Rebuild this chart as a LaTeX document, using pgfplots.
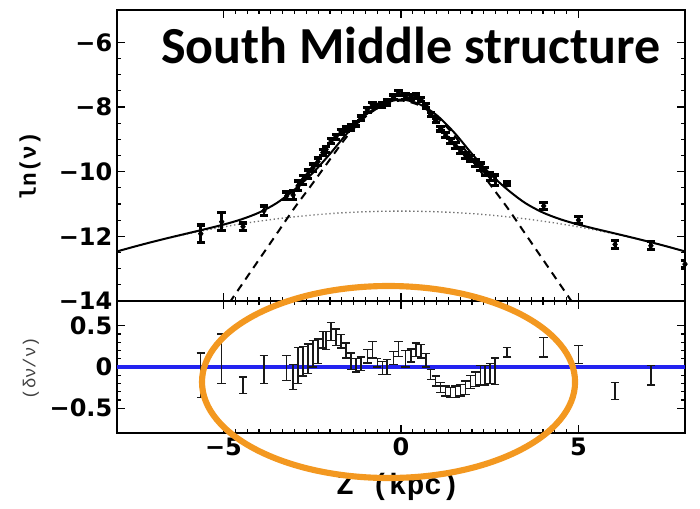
\documentclass[border=0pt]{standalone}
\usepackage{pgfplots}
\pgfplotsset{compat=1.18}
\usepackage{pgfplotstable}
\usepackage{fontspec}
\setmainfont{DejaVu Sans}
\newfontfamily\tickfont{DejaVu Sans}
\newfontfamily\monofont{Liberation Mono}
\newfontfamily\titlefont{Carlito}

\definecolor{fitblue}{RGB}{35,35,240}
\definecolor{ringorange}{RGB}{243,152,32}

% z (kpc), ln(nu), error
\pgfplotstableread{
x y e
-5.64 -11.92 0.27
-5.05 -11.55 0.28
-4.45 -11.70 0.11
-3.86 -11.21 0.15
-3.22 -10.75 0.12
-3.04 -10.72 0.13
-2.90 -10.44 0.15
-2.76 -10.25 0.14
-2.62 -10.08 0.13
-2.48 -9.88 0.12
-2.34 -9.69 0.11
-2.20 -9.41 0.09
-2.11 -9.31 0.09
-1.97 -9.05 0.08
-1.83 -8.92 0.08
-1.69 -8.77 0.07
-1.55 -8.68 0.07
-1.41 -8.63 0.08
-1.27 -8.52 0.07
-1.13 -8.35 0.07
-0.95 -8.09 0.07
-0.81 -7.93 0.08
-0.67 -7.97 0.05
-0.53 -7.93 0.07
-0.39 -7.86 0.08
-0.21 -7.70 0.07
-0.07 -7.57 0.07
0.12 -7.68 0.08
0.28 -7.68 0.07
0.42 -7.67 0.07
0.56 -7.77 0.07
0.70 -7.96 0.07
0.84 -8.23 0.06
0.98 -8.42 0.07
1.12 -8.67 0.07
1.26 -8.87 0.08
1.40 -9.05 0.08
1.54 -9.20 0.09
1.68 -9.36 0.09
1.82 -9.50 0.10
1.96 -9.59 0.09
2.10 -9.73 0.10
2.24 -9.85 0.12
2.37 -10.00 0.12
2.51 -10.15 0.12
2.65 -10.26 0.16
2.99 -10.38 0.06
4.02 -11.06 0.10
5.00 -11.50 0.11
6.03 -12.25 0.12
7.04 -12.29 0.12
8.00 -12.86 0.12
}\profile

% z (kpc), relative residual, error
\pgfplotstableread{
x r e
-5.64 -0.10 0.27
-5.05 0.10 0.30
-4.45 -0.22 0.10
-3.86 -0.03 0.17
-3.22 -0.01 0.15
-3.04 -0.12 0.15
-2.90 0.02 0.22
-2.76 0.07 0.18
-2.62 0.10 0.18
-2.48 0.16 0.16
-2.34 0.19 0.15
-2.20 0.33 0.10
-2.11 0.32 0.11
-1.97 0.43 0.11
-1.83 0.36 0.10
-1.69 0.31 0.08
-1.55 0.20 0.09
-1.41 0.07 0.10
-1.27 0.02 0.08
-1.13 0.04 0.08
-0.95 0.13 0.08
-0.81 0.21 0.10
-0.67 0.05 0.05
-0.53 -0.01 0.08
-0.39 0.00 0.09
-0.21 0.11 0.08
-0.07 0.22 0.09
0.12 0.10 0.10
0.28 0.14 0.08
0.42 0.21 0.08
0.56 0.19 0.08
0.70 0.08 0.08
0.84 -0.09 0.06
0.98 -0.17 0.06
1.12 -0.25 0.06
1.26 -0.29 0.06
1.40 -0.31 0.06
1.54 -0.30 0.07
1.68 -0.28 0.07
1.82 -0.25 0.08
1.96 -0.18 0.08
2.10 -0.15 0.09
2.24 -0.10 0.12
2.37 -0.10 0.12
2.51 -0.08 0.12
2.65 -0.05 0.16
2.99 0.18 0.06
4.02 0.24 0.12
5.00 0.15 0.11
6.03 -0.29 0.10
7.04 -0.10 0.12
}\residual

% total fit, thin-disk and thick components
\pgfplotstableread{
x s
-8.0 -12.467
-7.5 -12.315
-7.0 -12.171
-6.5 -12.035
-6.0 -11.904
-5.5 -11.774
-5.0 -11.637
-4.5 -11.476
-4.0 -11.266
-3.5 -10.970
-3.0 -10.555
-2.5 -10.056
-2.0 -9.449
-1.5 -8.792
-1.0 -8.249
-0.5 -7.903
0.0 -7.768
0.5 -7.903
1.0 -8.249
1.5 -8.792
2.0 -9.449
2.5 -10.056
3.0 -10.555
3.5 -10.970
4.0 -11.266
4.5 -11.476
5.0 -11.637
5.5 -11.774
6.0 -11.904
6.5 -12.035
7.0 -12.171
7.5 -12.315
8.0 -12.467
}\totalfit

\pgfplotstableread{
x d
-5.5 -15.12
-5.0 -14.32
-4.5 -13.52
-4.0 -12.72
-3.5 -11.92
-3.0 -11.12
-2.5 -10.38
-2.0 -9.62
-1.5 -8.88
-1.0 -8.30
-0.5 -7.94
0.0 -7.80
0.5 -7.94
1.0 -8.30
1.5 -8.88
2.0 -9.62
2.5 -10.38
3.0 -11.12
3.5 -11.92
4.0 -12.72
4.5 -13.52
5.0 -14.32
5.5 -15.12
}\thincomp

\pgfplotstableread{
x g
-8.0 -12.468
-7.5 -12.317
-7.0 -12.176
-6.5 -12.044
-6.0 -11.922
-5.5 -11.810
-5.0 -11.708
-4.5 -11.615
-4.0 -11.532
-3.5 -11.459
-3.0 -11.396
-2.5 -11.342
-2.0 -11.298
-1.5 -11.264
-1.0 -11.240
-0.5 -11.225
0.0 -11.220
0.5 -11.225
1.0 -11.240
1.5 -11.264
2.0 -11.298
2.5 -11.342
3.0 -11.396
3.5 -11.459
4.0 -11.532
4.5 -11.615
5.0 -11.708
5.5 -11.810
6.0 -11.922
6.5 -12.044
7.0 -12.176
7.5 -12.317
8.0 -12.468
}\thickcomp

\pgfplotsset{
  panel/.style={
    scale only axis,
    width=426pt,
    xmin=-8, xmax=8,
    xtick={-5,0,5},
    minor x tick num=14,
    tick align=inside,
    xtick pos=both, ytick pos=both,
    major tick length=6pt,
    minor tick length=3pt,
    every tick/.style={black, line width=0.9pt},
    axis line style={line width=1.4pt},
    ticklabel style={font=\tickfont\bfseries\fontsize{18}{18}\selectfont},
  },
}

\begin{document}
\begin{tikzpicture}
\useasboundingbox (0,0) rectangle (525pt,-381pt);

% upper panel: vertical profile
\begin{axis}[panel,
  at={(87.75pt,-225.75pt)}, anchor=south west,
  height=218.25pt,
  ymin=-14, ymax=-5,
  ytick={-14,-12,-10,-8,-6},
  yticklabels={−14,−12,−10,−8,−6},
  minor y tick num=3,
  xticklabels={},
]
\addplot[black!55, line width=1pt, dotted, smooth] table[x=x,y=g] {\thickcomp};
\addplot[black, line width=1.5pt, dash pattern=on 6pt off 4.5pt, smooth] table[x=x,y=d] {\thincomp};
\addplot[black, line width=1.5pt, smooth] table[x=x,y=s] {\totalfit};
\addplot[black, only marks, mark=diamond*, mark size=2.4pt,
  error bars/.cd, y dir=both, y explicit,
  error bar style={line width=2.2pt},
  error mark options={black, line width=2.4pt, mark size=3.2pt, rotate=90}]
  table[x=x, y=y, y error=e] {\profile};
\end{axis}

% lower panel: relative residuals
\begin{axis}[panel,
  at={(87.75pt,-225.75pt)}, anchor=north west,
  height=99pt,
  ymin=-0.8, ymax=0.8,
  ytick={-0.5,0,0.5},
  yticklabels={−0.5,0,0.5},
  minor y tick num=4,
  xticklabels={−5,0,5},
]
\addplot[draw=fitblue, line width=2.6pt, mark=none] table[row sep=\\] {x y\\ -8 0\\ 8 0\\};
\addplot[draw=none, mark=none,
  error bars/.cd, y dir=both, y explicit,
  error bar style={black!90, line width=1pt},
  error mark options={black!90, line width=1pt, mark size=3.2pt, rotate=90}]
  table[x=x, y=r, y error=e] {\residual};
\end{axis}

% titles and axis labels
\node[anchor=base west, inner sep=0pt, font=\titlefont\bfseries\fontsize{39}{39}\selectfont]
  at (120.75pt,-47.5pt) {South Middle structure};
\node[rotate=90, font=\monofont\bfseries\fontsize{17}{17}\selectfont]
  at (22.5pt,-124.5pt) {ln(ν)};
\node[rotate=90, text=black!75, font=\monofont\fontsize{13}{13}\selectfont]
  at (23.25pt,-276pt) {(δν/ν)};
\node[font=\monofont\bfseries\fontsize{22}{22}\selectfont]
  at (298.5pt,-365.25pt) {Z (kpc)};

% highlighted region
\draw[ringorange, line width=4.6pt] (291.4pt,-286.5pt) ellipse [x radius=139.9pt, y radius=72pt];
\end{tikzpicture}
\end{document}
